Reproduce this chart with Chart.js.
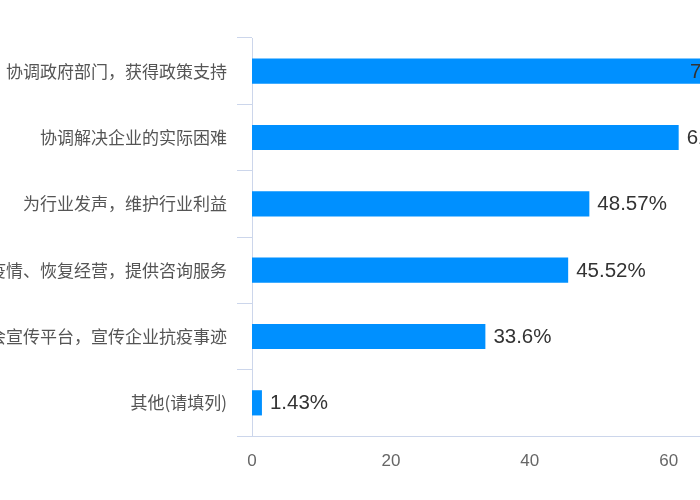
<!DOCTYPE html>
<html>
<head>
<meta charset="utf-8">
<script src="https://cdn.jsdelivr.net/npm/chart.js@4"></script>
<style>
  body { margin: 0; background: #fff; }
  canvas { display: block; }
</style>
</head>
<body>
<canvas id="myChart" width="700" height="500"></canvas>
<script>
// 类别
const categories = [
  '协调政府部门，获得政策支持',
  '协调解决企业的实际困难',
  '为行业发声，维护行业利益',
  '帮助企业抗击疫情、恢复经营，提供咨询服务',
  '搭建商会宣传平台，宣传企业抗疫事迹',
  '其他(请填列)'
];
// 百分比
const values = [71.43, 61.43, 48.57, 45.52, 33.6, 1.43];
// X轴刻度
const xTicks = [0, 20, 40, 60];

const ctx = document.getElementById('myChart').getContext('2d');

// 柱子右侧显示数值
const valueLabels = {
  id: 'valueLabels',
  afterDatasetsDraw(chart) {
    const c = chart.ctx;
    const area = chart.chartArea;
    const meta = chart.getDatasetMeta(0);
    c.save();
    c.font = '20.5px "Liberation Sans", Arial, sans-serif';
    c.fillStyle = '#333';
    c.textBaseline = 'middle';
    c.textAlign = 'left';
    meta.data.forEach((bar, i) => {
      const x = Math.min(bar.x + 8, area.right - 10);
      c.fillText(values[i] + '%', x, bar.y + 1);
    });
    c.restore();
  }
};

new Chart(ctx, {
  type: 'bar',
  data: {
    labels: categories,
    datasets: [{
      data: values,
      backgroundColor: '#0090ff',
      categoryPercentage: 1,
      barPercentage: 0.38
    }]
  },
  options: {
    indexAxis: 'y',
    responsive: false,
    animation: false,
    layout: { padding: { top: 38, right: 0, bottom: 0, left: 0 } },
    plugins: {
      legend: { display: false },
      tooltip: { enabled: false }
    },
    scales: {
      x: {
        min: 0,
        max: 64.5,
        afterFit: scale => { scale.height = 64; },
        afterBuildTicks: scale => { scale.ticks = xTicks.map(v => ({ value: v })); },
        grid: { display: false, drawTicks: false },
        border: { display: true, color: '#ccd6eb', width: 1 },
        ticks: {
          padding: 15,
          color: '#666',
          font: { size: 17, family: '"Liberation Sans", Arial, sans-serif' }
        }
      },
      y: {
        afterFit: scale => { scale.width = 252; },
        grid: { drawOnChartArea: false, tickLength: 15, color: '#ccd6eb' },
        border: { display: true, color: '#ccd6eb', width: 1 },
        ticks: {
          padding: 10,
          color: '#555',
          font: { size: 17, family: '"Noto Sans CJK SC", sans-serif' }
        }
      }
    }
  },
  plugins: [valueLabels]
});
</script>
</body>
</html>
